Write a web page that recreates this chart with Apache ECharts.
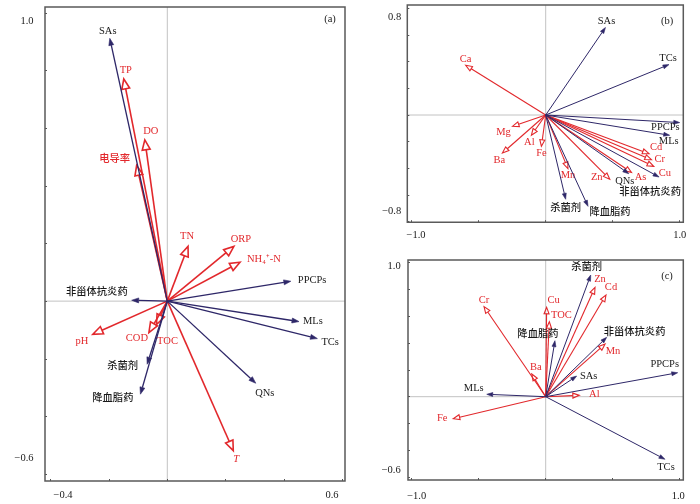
<!DOCTYPE html>
<html><head><meta charset="utf-8">
<script src="https://cdn.jsdelivr.net/npm/echarts@6/dist/echarts.min.js"></script>
<style>html,body{margin:0;padding:0;background:#fff}#c{width:700px;height:504px}</style>
</head><body><div id="c"></div>
<script>
// ---------- Panel (a) ----------
const aEnvNames = ['TP','DO','电导率','TN','ORP','NH₄⁺-N','pH','COD','TOC','T'];
const aEnvX = [-0.149,-0.077,-0.105,0.071,0.228,0.249,-0.255,-0.063,-0.037,0.226];
const aEnvY = [0.771,0.560,0.471,0.190,0.190,0.135,-0.115,-0.109,-0.081,-0.519];
const aDrugNames = ['SAs','PPCPs','非甾体抗炎药','MLs','TCs','QNs','杀菌剂','降血脂药'];
const aDrugX = [-0.197,0.423,-0.122,0.451,0.514,0.303,-0.069,-0.092];
const aDrugY = [0.912,0.069,0.003,-0.071,-0.130,-0.285,-0.219,-0.323];
// ---------- Panel (b) ----------
const bEnvNames = ['Ca','Mg','Al','Fe','Ba','Mn','Zn','As','Cd','Cr','Cu'];
const bEnvX = [-0.597,-0.248,-0.107,-0.032,-0.323,0.166,0.478,0.640,0.771,0.789,0.806];
const bEnvY = [0.373,-0.085,-0.152,-0.235,-0.285,-0.402,-0.482,-0.430,-0.290,-0.335,-0.385];
const bDrugNames = ['SAs','TCs','PPCPs','MLs','QNs','非甾体抗炎药','杀菌剂','降血脂药'];
const bDrugX = [0.446,0.920,1.0,0.925,0.62,0.846,0.149,0.316];
const bDrugY = [0.656,0.378,-0.057,-0.152,-0.44,-0.465,-0.632,-0.685];
// ---------- Panel (c) ----------
const cEnvNames = ['Zn','Cd','Cu','TOC','Cr','Mn','Ba','Al','Fe'];
const cEnvX = [0.368,0.450,0.007,0.027,-0.460,0.443,-0.104,0.251,-0.690];
const cEnvY = [0.816,0.759,0.667,0.560,0.672,0.393,0.169,0.010,-0.164];
const cDrugNames = ['杀菌剂','降血脂药','非甾体抗炎药','SAs','PPCPs','MLs','TCs'];
const cDrugX = [0.336,0.069,0.455,0.231,0.985,-0.440,0.890];
const cDrugY = [0.908,0.418,0.443,0.154,0.179,0.018,-0.467];
// axis ranges [xmin,xmax,xint,ymin,ymax,yint]
const aAxis = [-0.4,0.6,0.2,-0.6,1.0,0.2];
const bAxis = [-1.0,1.0,0.5,-0.8,0.8,0.2];
const cAxis = [-1.0,1.0,0.5,-0.6,1.0,0.2];
const panelTags = ['(a)','(b)','(c)'];

// ---------- styling (label offsets in px: dx, dy, align) ----------
const aEnvLab = [[2,-9,'c'],[6,-9,'c'],[-22,-6,'c'],[-1,-10,'c'],[7,-7,'c'],[7,-3,'l'],[-11,7,'c'],[-12,6,'c'],[11,17,'c'],[3,9,'c']];
const aDrugLab = [[-2,-7,'c'],[7,-1,'l'],[-4,-8,'r'],[4,0,'l'],[4,4,'l'],[9,10,'c'],[-9,2,'r'],[-7,4,'r']];
const bEnvLab = [[0,-6,'c'],[-9,6,'c'],[-2,7,'c'],[0,7,'c'],[-3,7,'c'],[0,7,'c'],[-13,-2,'c'],[9,5,'c'],[1,-6,'l'],[3,0,'l'],[5,7,'l']];
const bDrugLab = [[1,-6,'c'],[-1,-6,'c'],[0,5,'r'],[9,6,'r'],[-4,8,'c'],[-9,15,'c'],[0,9,'c'],[22,6,'c']];
const cEnvLab = [[5,-8,'c'],[5,-8,'c'],[7,-7,'c'],[12,-6,'c'],[0,-6,'c'],[8,7,'c'],[4,-7,'c'],[15,-1,'c'],[-11,0,'c']];
const cDrugLab = [[-4,-8,'c'],[-17,-6,'c'],[-3,-5,'l'],[12,0,'c'],[-13,-8,'c'],[-13,-6,'c'],[1,8,'c']];

const RED = '#e2282c', NAVY = '#2e2768', LABK = '#1a1a1a';
const FONT = '"Liberation Serif","Noto Sans CJK SC",serif';
const FS = 10.5, FS_CJK = 10.3;
const HEADS = [
  {env:{hl:10,hw:8,lw:1.6}, drug:{hl:7,hw:5,lw:1.3}},
  {env:{hl:6.5,hw:5,lw:1.1}, drug:{hl:6,hw:4,lw:1.0}},
  {env:{hl:6.5,hw:5,lw:1.1}, drug:{hl:6,hw:4,lw:1.0}}
];
const GRIDS = [
  {left:50.5, right:357.5, top:13, bottom:30},
  {left:411.7, right:20.3, top:8.3, bottom:282.3},
  {left:411.7, right:20.3, top:262.7, bottom:26.9}
];
// frame padding beyond tick range: left, right, top, bottom
const FRAMEPAD = [[5.5,2.5,6,7],[4.4,3.6,3.3,0.5],[3.7,3.6,2.7,2.9]];
// label settings: [xMargin, yMargin, xLoShift, xHiShift, yLoShift(up), yHiShift(down)]
const LABCFG = [[9,11.5,12.5,10.5,16,8],[7.5,6.1,4.3,0,10.7,8.7],[11.1,7.3,5,1.4,7,4]];
const TAGPOS = [[330,19],[667,21],[667,276]];

function fmtNum(v){ return v.toFixed(1).replace('-', '\u2212'); }
function isCJK(s){ return /[\u4e00-\u9fff]/.test(s); }

function makeAxes(i, ax){
  const c = LABCFG[i];
  const pad = FRAMEPAD[i];
  const base = {fontFamily:FONT, fontSize:FS, color:LABK};
  const tick = {show:true, inside:true, length:2, lineStyle:{color:'#555'}};
  const xa = {
    type:'value', gridIndex:i, min:ax[0], max:ax[1], interval:ax[2], position:'bottom', offset:pad[3],
    axisLine:{show:false, onZero:false}, splitLine:{show:false}, axisTick:tick,
    axisLabel:{show:true, margin:c[0], showMinLabel:true, showMaxLabel:true,
      formatter:function(v){
        if (Math.abs(v-ax[0])<1e-6) return '{lo|'+fmtNum(v)+'}';
        if (Math.abs(v-ax[1])<1e-6) return '{hi|'+fmtNum(v)+'}';
        return '';
      },
      rich:{lo:Object.assign({padding:[0,0,0,2*c[2]]},base), hi:Object.assign({padding:[0,2*c[3],0,0]},base)}
    }
  };
  const ya = {
    type:'value', gridIndex:i, min:ax[3], max:ax[4], interval:ax[5], position:'left', offset:pad[0],
    axisLine:{show:false, onZero:false}, splitLine:{show:false}, axisTick:tick,
    axisLabel:{show:true, margin:c[1], showMinLabel:true, showMaxLabel:true,
      formatter:function(v){
        if (Math.abs(v-ax[3])<1e-6) return '{lo|'+fmtNum(v)+'}';
        if (Math.abs(v-ax[4])<1e-6) return '{hi|'+fmtNum(v)+'}';
        return '';
      },
      rich:{lo:Object.assign({padding:[0,0,2*c[4],0]},base), hi:Object.assign({padding:[2*c[5],0,0,0]},base)}
    }
  };
  return [xa, ya];
}

function makeSeries(gi, names, xs, ys, labs, kind){
  const isEnv = kind === 'env';
  const color = isEnv ? RED : NAVY;
  const h = HEADS[gi][kind];
  return {
    type:'custom', coordinateSystem:'cartesian2d', xAxisIndex:gi, yAxisIndex:gi,
    z: isEnv ? 3 : 4, silent:true, animation:false,
    data: xs.map(function(x,i){ return [x, ys[i]]; }),
    renderItem: function(params, api){
      const i = params.dataIndex;
      const o = api.coord([0,0]);
      const p = api.coord([api.value(0), api.value(1)]);
      const dx = p[0]-o[0], dy = p[1]-o[1];
      const L = Math.sqrt(dx*dx+dy*dy) || 1;
      const ux = dx/L, uy = dy/L, nx = -uy, ny = ux;
      const bx = p[0]-ux*h.hl, by = p[1]-uy*h.hl;
      const tri = [[p[0],p[1]],[bx+nx*h.hw/2, by+ny*h.hw/2],[bx-nx*h.hw/2, by-ny*h.hw/2]];
      const lab = labs[i];
      const al = lab[2]==='l' ? 'left' : (lab[2]==='r' ? 'right' : 'center');
      const cjk = isCJK(names[i]);
      return {type:'group', children:[
        {type:'line', shape:{x1:o[0], y1:o[1], x2:bx, y2:by}, style:{stroke:color, lineWidth:h.lw}},
        {type:'polygon', shape:{points:tri}, style: isEnv ? {fill:'none', stroke:color, lineWidth:h.lw} : {fill:color, stroke:color, lineWidth:0.6}},
        {type:'text', x:p[0]+lab[0], y:p[1]+lab[1], style:{
          text:names[i], fill: isEnv ? RED : LABK, fontFamily:FONT, fontSize: cjk ? FS_CJK : FS,
          fontWeight: cjk ? 500 : 'normal',
          fontStyle: names[i]==='T' ? 'italic' : 'normal', align:al, verticalAlign:'middle'}}
      ]};
    }
  };
}

const axes = [makeAxes(0,aAxis), makeAxes(1,bAxis), makeAxes(2,cAxis)];
const option = {
  animation:false,
  backgroundColor:'#fff',
  grid: GRIDS.map(function(g){ return Object.assign({containLabel:false, outerBoundsMode:'none'}, g); }),
  xAxis: axes.map(function(a){ return a[0]; }),
  yAxis: axes.map(function(a){ return a[1]; }),
  series: [
    makeSeries(0, aEnvNames, aEnvX, aEnvY, aEnvLab, 'env'),
    makeSeries(0, aDrugNames, aDrugX, aDrugY, aDrugLab, 'drug'),
    makeSeries(1, bEnvNames, bEnvX, bEnvY, bEnvLab, 'env'),
    makeSeries(1, bDrugNames, bDrugX, bDrugY, bDrugLab, 'drug'),
    makeSeries(2, cEnvNames, cEnvX, cEnvY, cEnvLab, 'env'),
    makeSeries(2, cDrugNames, cDrugX, cDrugY, cDrugLab, 'drug')
  ]
};
const chart = echarts.init(document.getElementById('c'), null, {renderer:'canvas'});
chart.setOption(option);

const ranges = [aAxis, bAxis, cAxis];
const gr = [];
ranges.forEach(function(ax, i){
  const p0 = chart.convertToPixel({gridIndex:i}, [ax[0], ax[4]]);
  const p1 = chart.convertToPixel({gridIndex:i}, [ax[1], ax[3]]);
  const z = chart.convertToPixel({gridIndex:i}, [0, 0]);
  const pad = FRAMEPAD[i];
  const L = p0[0]-pad[0], R = p1[0]+pad[1], T = p0[1]-pad[2], B = p1[1]+pad[3];
  gr.push({type:'line', z:0, silent:true, shape:{x1:z[0], y1:T, x2:z[0], y2:B}, style:{stroke:'#c2c2c2', lineWidth:1}});
  gr.push({type:'line', z:0, silent:true, shape:{x1:L, y1:z[1], x2:R, y2:z[1]}, style:{stroke:'#c2c2c2', lineWidth:1}});
  gr.push({type:'rect', z:100, silent:true, shape:{x:L, y:T, width:R-L, height:B-T}, style:{fill:'none', stroke:'#5a5a5a', lineWidth:1.5}});
  gr.push({type:'text', z:100, silent:true, x:TAGPOS[i][0], y:TAGPOS[i][1], style:{text:panelTags[i], fill:LABK, fontFamily:FONT, fontSize:FS, align:'center', verticalAlign:'middle'}});
});
chart.setOption({graphic: gr});
</script></body></html>
